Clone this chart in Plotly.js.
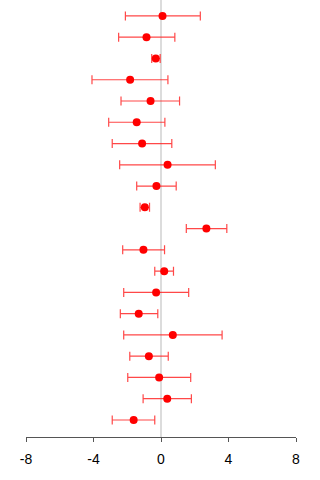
<!DOCTYPE html>
<html>
<head>
<meta charset="utf-8">
<script src="https://cdn.plot.ly/plotly-3.0.1.min.js"></script>
<style>
  html, body { margin: 0; padding: 0; background: #fff; }
  #chart { width: 320px; height: 480px; }
</style>
</head>
<body>
<div id="chart"></div>
<script>
// Row positions, top to bottom
const rows = [1, 2, 3, 4, 5, 6, 7, 8, 9, 10, 11, 12, 13, 14, 15, 16, 17, 18, 19, 20];
// Point estimates
const estimate = [0.09, -0.86, -0.31, -1.83, -0.62, -1.44, -1.12, 0.39, -0.27, -0.96,
                  2.69, -1.04, 0.19, -0.29, -1.32, 0.70, -0.72, -0.11, 0.37, -1.62];
// Interval bounds
const lower = [-2.11, -2.51, -0.55, -4.09, -2.37, -3.10, -2.89, -2.45, -1.44, -1.24,
               1.50, -2.27, -0.37, -2.21, -2.41, -2.21, -1.85, -1.97, -1.06, -2.89];
const upper = [2.33, 0.82, -0.05, 0.41, 1.10, 0.23, 0.64, 3.22, 0.90, -0.68,
               3.90, 0.21, 0.74, 1.64, -0.19, 3.62, 0.43, 1.76, 1.80, -0.37];
const xTicks = [-8, -4, 0, 4, 8];

const plus = upper.map((u, i) => u - estimate[i]);
const minus = estimate.map((e, i) => e - lower[i]);

const trace = {
  type: 'scatter',
  mode: 'markers',
  x: estimate,
  y: rows,
  marker: { color: '#ff0000', size: 8 },
  error_x: {
    type: 'data',
    symmetric: false,
    array: plus,
    arrayminus: minus,
    color: 'rgba(255,40,40,0.85)',
    thickness: 1.2,
    width: 4.5
  },
  hoverinfo: 'x'
};

const layout = {
  width: 320,
  height: 480,
  margin: { l: 26, r: 24, t: 0, b: 43 },
  paper_bgcolor: '#ffffff',
  plot_bgcolor: '#ffffff',
  showlegend: false,
  xaxis: {
    range: [-8, 8],
    tickvals: xTicks,
    ticktext: xTicks.map(String),
    showgrid: false,
    zeroline: true,
    zerolinecolor: '#dcdcdc',
    zerolinewidth: 2,
    showline: true,
    linecolor: '#555555',
    linewidth: 1,
    ticks: 'outside',
    ticklen: 4,
    tickcolor: '#555555',
    ticklabelstandoff: 5,
    tickfont: { family: 'Liberation Sans, Arial, sans-serif', size: 14, color: '#000000' }
  },
  yaxis: {
    range: [20.8, 0.25],
    visible: false,
    showgrid: false,
    zeroline: false
  }
};

Plotly.newPlot('chart', [trace], layout, { displayModeBar: false, staticPlot: true });
</script>
</body>
</html>
